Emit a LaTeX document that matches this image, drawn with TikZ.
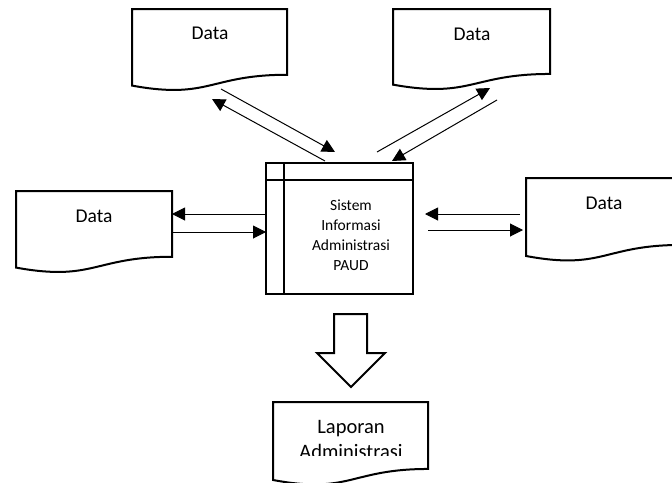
\documentclass[tikz,border=0pt]{standalone}
\usepackage{fontspec}
\setmainfont{Carlito}
\usetikzlibrary{arrows.meta,calc}
\tikzset{
  docbox/.style={rectangle, draw=none, inner sep=0pt, outer sep=0pt},
  docline/.style={line width=2pt, line join=miter},
  proc/.style={rectangle, draw, line width=2pt, inner sep=0pt, outer sep=0pt},
  datatext/.style={anchor=base, inner sep=0pt, font=\fontsize{19.5}{24}\selectfont},
  flow/.style={line width=1pt, -{Triangle[length=13pt,width=13pt]}},
}
\newcommand\docoutline[1]{%
  \draw[docline] ($(#1.north west)!0.934!(#1.south west)$) -- (#1.north west) -- (#1.north east)
    -- ($(#1.north east)!0.802!(#1.south east)$)
    .. controls ($(#1.north)!0.802!(#1.south)$) and ($(#1.north)!1.1075!(#1.south)$) ..
    ($(#1.north west)!0.934!(#1.south west)$) -- cycle;}
\begin{document}
\begin{tikzpicture}[x=1pt,y=-1pt]
\useasboundingbox (0,0) rectangle (672,482);
\clip (0,0) rectangle (672,482);
% document shapes
\node[docbox, minimum width=155pt, minimum height=82pt] (d1) at (209.5,50) {};
\node[docbox, minimum width=157pt, minimum height=81pt] (d2) at (471.5,49.5) {};
\node[docbox, minimum width=156pt, minimum height=82pt] (d3) at (94,232) {};
\node[docbox, minimum width=155pt, minimum height=83.5pt] (d4) at (603.5,219.75) {};
\node[docbox, minimum width=155pt, minimum height=83.5pt] (d5) at (350.5,443.75) {};
\docoutline{d1}
\docoutline{d2}
\docoutline{d3}
\docoutline{d4}
\docoutline{d5}
\node[datatext] (t1) at (210,39) {Data};
\node[datatext] (t2) at (472,40) {Data};
\node[datatext] (t3) at (94,222) {Data};
\node[datatext] (t4) at (604,209) {Data};
\node[datatext, font=\fontsize{20.5}{25}\selectfont] (t5a) at (351,433) {Laporan};
\begin{scope}
  \clip (273,420) rectangle (428,455.5);
  \node[datatext, font=\fontsize{20.5}{25}\selectfont] (t5b) at (351,458) {Administrasi};
\end{scope}
% process
\node[proc, minimum width=147pt, minimum height=131pt] (p) at (339.5,228.5) {};
\draw[line width=2pt] ($(p.north west)+(18,0)$) -- ($(p.south west)+(18,0)$);
\draw[line width=2pt] ($(p.north west)+(0,17)$) -- ($(p.north east)+(0,17)$);
\node[anchor=base, inner sep=0pt, align=center, font=\fontsize{15.5}{20}\selectfont] (pt) at (351,270.5)
  {Sistem\\Informasi\\Administrasi\\PAUD};
% connectors
\coordinate (a1s) at (221,89);  \coordinate (a1e) at (335,152);
\coordinate (a2s) at (325,161); \coordinate (a2e) at (212,99);
\coordinate (a3s) at (377,152); \coordinate (a3e) at (490,88);
\coordinate (a4s) at (497,100); \coordinate (a4e) at (392,161);
\coordinate (a5s) at (266,214); \coordinate (a5e) at (172,214);
\coordinate (a6s) at (172,232); \coordinate (a6e) at (266,232);
\coordinate (a7s) at (520,214); \coordinate (a7e) at (425,214);
\coordinate (a8s) at (428,230); \coordinate (a8e) at (523,230);
\draw[flow] (a1s) -- (a1e);
\draw[flow] (a2s) -- (a2e);
\draw[flow] (a3s) -- (a3e);
\draw[flow] (a4s) -- (a4e);
\draw[flow] (a5s) -- (a5e);
\draw[flow] (a6s) -- (a6e);
\draw[flow] (a7s) -- (a7e);
\draw[flow] (a8s) -- (a8e);
% big hollow arrow
\draw[line width=2pt, line join=miter] (334,314) -- (367,314) -- (367,353) -- (385,353) -- (351,387) -- (317,353) -- (334,353) -- cycle;
\end{tikzpicture}
\end{document}
